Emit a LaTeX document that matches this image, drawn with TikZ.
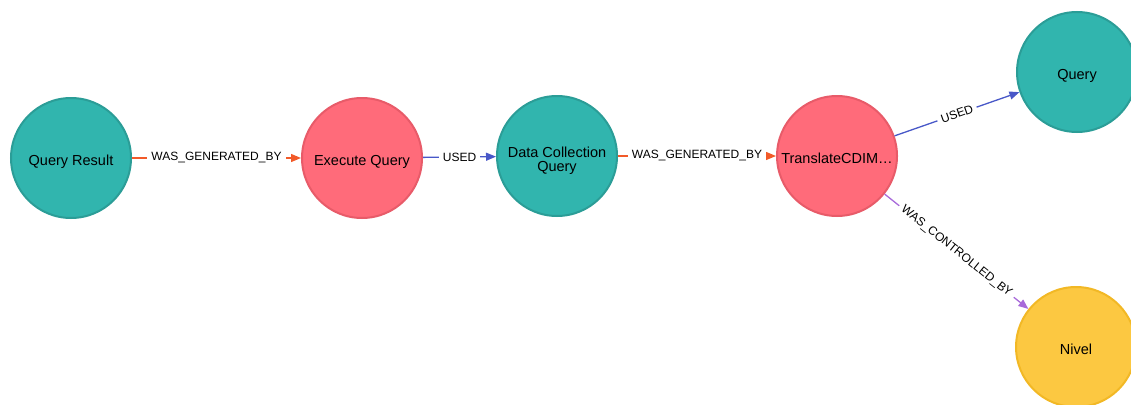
\documentclass[tikz,border=0pt]{standalone}
\usepackage{fontspec}
\setmainfont{Liberation Sans}
\usetikzlibrary{arrows.meta}
\definecolor{tealfill}{HTML}{31B5AE}
\definecolor{tealline}{HTML}{2B9D97}
\definecolor{pinkfill}{HTML}{FF6B7A}
\definecolor{pinkline}{HTML}{E85B69}
\definecolor{yelfill}{HTML}{FCC841}
\definecolor{yelline}{HTML}{F2B825}
\definecolor{genc}{HTML}{F25A29}
\definecolor{usedc}{HTML}{4858C8}
\definecolor{ctrlc}{HTML}{A86ADA}
\tikzset{
  nd/.style={circle, minimum size=120pt, inner sep=0pt, line width=2pt, align=center,
    font=\fontsize{14.5}{14}\selectfont, text height=17pt, text depth=3pt},
  ent/.style={nd, fill=tealfill, draw=tealline},
  act/.style={nd, fill=pinkfill, draw=pinkline},
  agt/.style={nd, fill=yelfill, draw=yelline},
  edge/.style={line width=1.3pt, -{Triangle[length=10pt,width=8pt]}},
  gen/.style={edge, draw=genc},
  usedarr/.style={edge, draw=usedc},
  ctrl/.style={edge, draw=ctrlc},
  elabel/.style={fill=white, inner xsep=4pt, inner ysep=1pt, text=black,
    font=\fontsize{12}{13}\selectfont}
}
\begin{document}
\begin{tikzpicture}[x=1pt,y=-1pt]
\useasboundingbox (0,0) rectangle (1131,404);
\node[ent] (qr) at (71,158) {Query Result};
\node[act] (eq) at (362,158) {Execute Query};
\node[ent, text height=33pt] (dcq) at (557,156) {Data Collection\\Query};
\node[act] (tr) at (837,156) {TranslateCDIM…};
\node[ent] (q) at (1077,72) {Query};
\node[agt] (nv) at (1076,347) {Nivel};
\draw[gen] (qr) -- node[elabel]{WAS\_GENERATED\_BY} (eq);
\draw[usedarr] (eq) -- node[elabel]{USED} (dcq);
\draw[gen] (dcq) -- node[elabel]{WAS\_GENERATED\_BY} (tr);
\draw[usedarr] (tr) -- node[elabel, sloped]{USED} (q);
\draw[ctrl] (tr) -- node[elabel, sloped]{WAS\_CONTROLLED\_BY} (nv);
\end{tikzpicture}
\end{document}
